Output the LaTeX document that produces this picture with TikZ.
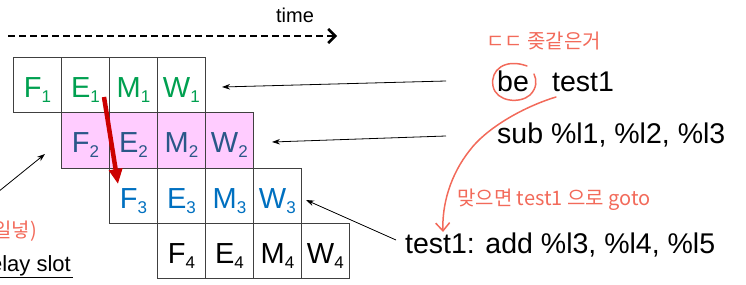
\documentclass[tikz,border=0pt]{standalone}
\usepackage{fontspec}
\setmainfont{Liberation Sans}
\newfontfamily\kr{Noto Sans CJK KR}
\usetikzlibrary{arrows.meta}
\definecolor{rowA}{HTML}{00A050}
\definecolor{rowB}{HTML}{2A5788}
\definecolor{rowC}{HTML}{0070C0}
\definecolor{pinkfill}{HTML}{FFCCFF}
\definecolor{pen}{HTML}{F26A5A}
\definecolor{bigred}{HTML}{CC0000}
\newcommand{\stg}[2]{#1\raisebox{-5pt}{\fontsize{17}{17}\selectfont #2}}
\tikzset{
  cell/.style={draw=black!75, line width=0.8pt, minimum width=48pt, minimum height=55.3pt,
    inner sep=0pt, anchor=north west, font=\fontsize{29}{29}\selectfont,
    text height=25pt, text depth=0pt},
  instr/.style={anchor=base west, inner sep=0pt, font=\fontsize{28.5}{30}\selectfont},
  ptr/.style={draw=black, line width=0.8pt, -{Stealth[length=8pt,width=5.5pt]}},
  note/.style={text=pen, inner sep=0pt, font=\kr\fontsize{20}{22}\selectfont},
  penline/.style={draw=pen, line width=1.5pt, line cap=round}
}
\begin{document}
\begin{tikzpicture}[x=1pt,y=-1pt]
\useasboundingbox (0,0) rectangle (746,284);
% time axis
\node[font=\fontsize{20}{22}\selectfont, inner sep=0pt] (time) at (295,15) {time};
\coordinate (t0) at (8,36);
\coordinate (t1) at (337,36);
\draw[line width=2.5pt, dash pattern=on 7pt off 4pt, -{Straight Barb[length=7pt,width=14pt,line width=2.5pt]}] (t0) -- (t1);
% pipeline rows
\foreach \s/\n [count=\i from 0] in {F/1,E/1,M/1,W/1}
  \node[cell, text=rowA] (r1\i) at (13+48*\i,57) {\stg{\s}{\n}};
\foreach \s/\n [count=\i from 0] in {F/2,E/2,M/2,W/2}
  \node[cell, fill=pinkfill, text=rowB] (r2\i) at (61+48*\i,112.3) {\stg{\s}{\n}};
\foreach \s/\n [count=\i from 0] in {F/3,E/3,M/3,W/3}
  \node[cell, text=rowC] (r3\i) at (109+48*\i,167.6) {\stg{\s}{\n}};
\foreach \s/\n [count=\i from 0] in {F/4,E/4,M/4,W/4}
  \node[cell, text=black] (r4\i) at (157+48*\i,222.9) {\stg{\s}{\n}};
% instructions
\node[instr] (be) at (497,91) {be};
\node[instr] (t1lbl) at (552,91) {test1};
\node[instr] (sub) at (497,143) {sub \%l1, \%l2, \%l3};
\node[instr] (add) at (405,253) {test1: add \%l3, \%l4, \%l5};
% delay slot
\node[anchor=base east, inner sep=0pt, font=\fontsize{22}{23}\selectfont] (ds) at (71,271) {delay slot};
\coordinate (u0) at (0,277.5);
\coordinate (u1) at (73,277.5);
\draw[line width=1.2pt] (u0) -- (u1);
% pointer arrows
\coordinate (a1s) at (446,81);  \coordinate (a1e) at (222,87);
\coordinate (a2s) at (446,136); \coordinate (a2e) at (272,142);
\coordinate (a3s) at (396,240); \coordinate (a3e) at (306,200);
\coordinate (a4s) at (-2,192);  \coordinate (a4e) at (45,154);
\draw[ptr] (a1s) -- (a1e);
\draw[ptr] (a2s) -- (a2e);
\draw[ptr] (a3s) -- (a3e);
\draw[ptr] (a4s) -- (a4e);
% red forwarding arrow
\coordinate (rs) at (104,97);
\coordinate (re) at (118,184);
\draw[bigred, line width=4.5pt, -{Triangle[length=15pt,width=13pt]}] (rs) -- (re);
% handwritten notes
\node[note, anchor=west] (n1) at (486,41) {ㄷㄷ 좆같은거};
\node[note, anchor=west] (n2) at (457,200) {맞으면 test1 으로 goto};
\node[note, anchor=east] (n3) at (37,231) {(일넣)};
\draw[penline] (527,66) .. controls (505,58) and (490,70) .. (493,86)
   .. controls (496,102) and (520,104) .. (530,95)
   .. controls (537,88) and (537,80) .. (534,74);
\draw[penline, -{Straight Barb[length=8pt,width=14pt,line width=1.5pt]}] (556,97)
   .. controls (520,108) and (485,130) .. (470,150)
   .. controls (450,175) and (442,205) .. (443,232);
\end{tikzpicture}
\end{document}
